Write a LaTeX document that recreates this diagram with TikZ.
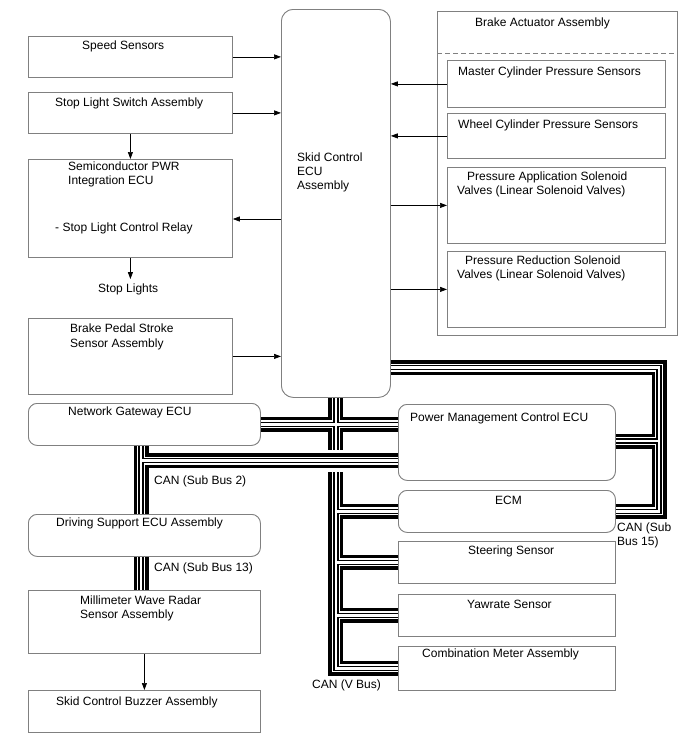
\documentclass[tikz,border=0pt]{standalone}
\usepackage{fontspec}
\setmainfont{Liberation Sans}
\usetikzlibrary{arrows.meta}
\definecolor{bordergray}{RGB}{128,128,128}
\newcommand\canbus[1]{%
  \draw[line width=15pt, black, line join=miter] #1;
  \draw[line width=8pt, white, line join=miter] #1;
  \draw[line width=5.4pt, black, line join=miter] #1;
  \draw[line width=2.8pt, white, line join=miter] #1;
}
\begin{document}
\begin{tikzpicture}[x=1pt,y=-1pt,
  box/.style={draw=bordergray, fill=white, line width=0.8pt, inner sep=0pt, anchor=north west},
  rbox/.style={box, rounded corners=9pt},
  txt/.style={anchor=base west, inner sep=0pt, font=\fontsize{12}{14}\selectfont},
  arr/.style={-{Triangle[length=7pt,width=5pt]}, line width=0.7pt, black}]
\useasboundingbox (0,0) rectangle (688,755);

% ---------- coordinates for buses ----------
\coordinate (s15a) at (659,367.5);
\coordinate (s15b) at (659,441);
\coordinate (s2) at (141,460.5);

% ---------- boxes (positions only used for anchors first) ----------
\path
 (28,36)  node[box, minimum width=204pt, minimum height=41pt] (speed) {}
 (28,92)  node[box, minimum width=204pt, minimum height=41pt] (stopsw) {}
 (28,159) node[box, minimum width=204pt, minimum height=98pt] (semi) {}
 (28,318) node[box, minimum width=204pt, minimum height=76pt] (pedal) {}
 (28,403) node[rbox, minimum width=232pt, minimum height=42pt] (gateway) {}
 (28,514) node[rbox, minimum width=232pt, minimum height=42pt] (drive) {}
 (28,590) node[box, minimum width=232pt, minimum height=63pt] (radar) {}
 (28,690) node[box, minimum width=232pt, minimum height=42pt] (buzzer) {}
 (281,9)  node[box, rounded corners=12pt, minimum width=109pt, minimum height=388pt] (skid) {}
 (437,11) node[box, minimum width=240pt, minimum height=324pt] (actuator) {}
 (447,60) node[box, minimum width=218pt, minimum height=47pt] (master) {}
 (447,113) node[box, minimum width=218pt, minimum height=45pt] (wheel) {}
 (447,167) node[box, minimum width=218pt, minimum height=76pt] (papply) {}
 (447,251) node[box, minimum width=218pt, minimum height=76pt] (preduce) {}
 (398,404) node[rbox, minimum width=217pt, minimum height=76pt] (power) {}
 (398,490) node[rbox, minimum width=217pt, minimum height=42pt] (ecm) {}
 (398,541) node[box, minimum width=217pt, minimum height=42pt] (steer) {}
 (398,594) node[box, minimum width=217pt, minimum height=42pt] (yaw) {}
 (398,646) node[box, minimum width=217pt, minimum height=44pt] (meter) {};

% ---------- CAN (Sub Bus 15) ----------
\canbus{([xshift=-3pt]skid.east |- s15a) -- (s15a) -- (s15a |- ecm.east) -- ([xshift=-3pt]ecm.east)
        (s15b) -- ([xshift=-3pt]power.east |- s15b)}

% ---------- CAN (V Bus) ----------
\canbus{([yshift=3pt]skid.south) -- (skid.south |- meter.west) -- ([xshift=3pt]meter.west)
        ([xshift=-3pt]gateway.east) -- ([xshift=3pt]power.west |- gateway.east)
        (skid.south |- ecm.west) -- ([xshift=3pt]ecm.west)
        (skid.south |- steer.west) -- ([xshift=3pt]steer.west)
        (skid.south |- yaw.west) -- ([xshift=3pt]yaw.west)}

% bridge gap where Sub Bus 2 passes over the V Bus
\draw[white, line width=22pt] (320,460.5) -- (351,460.5);

% ---------- CAN (Sub Bus 2) / (Sub Bus 13) ----------
\canbus{([yshift=3pt]gateway.south -| s2) -- ([yshift=-3pt]drive.north -| s2)
        (s2) -- ([xshift=3pt]power.west |- s2)
        ([yshift=3pt]drive.south -| s2) -- ([yshift=-3pt]radar.north -| s2)}

% ---------- boxes drawn on top ----------
\path
 (28,36)  node[box, minimum width=204pt, minimum height=41pt] {}
 (28,92)  node[box, minimum width=204pt, minimum height=41pt] {}
 (28,159) node[box, minimum width=204pt, minimum height=98pt] {}
 (28,318) node[box, minimum width=204pt, minimum height=76pt] {}
 (28,403) node[rbox, minimum width=232pt, minimum height=42pt] {}
 (28,514) node[rbox, minimum width=232pt, minimum height=42pt] {}
 (28,590) node[box, minimum width=232pt, minimum height=63pt] {}
 (28,690) node[box, minimum width=232pt, minimum height=42pt] {}
 (281,9)  node[box, rounded corners=12pt, minimum width=109pt, minimum height=388pt] {}
 (398,404) node[rbox, minimum width=217pt, minimum height=76pt] {}
 (398,490) node[rbox, minimum width=217pt, minimum height=42pt] {}
 (398,541) node[box, minimum width=217pt, minimum height=42pt] {}
 (398,594) node[box, minimum width=217pt, minimum height=42pt] {}
 (398,646) node[box, minimum width=217pt, minimum height=44pt] {};

% dashed separator in the Brake Actuator Assembly
\draw[bordergray, line width=0.8pt, dash pattern=on 5pt off 3pt]
  ([yshift=-42pt]actuator.north west) -- ([yshift=-42pt]actuator.north east);

% ---------- texts ----------
\node[txt] (tspeed) at (82,49) {Speed Sensors};
\node[txt] (tstopsw) at (55,106) {Stop Light Switch Assembly};
\node[txt] (tsemi1) at (68,170) {Semiconductor PWR};
\node[txt] (tsemi2) at (68,184) {Integration ECU};
\node[txt] (tsemi3) at (55,231) {- Stop Light Control Relay};
\node[txt] (lights) at (98,292) {Stop Lights};
\node[txt] (tskid1) at (297,161) {Skid Control};
\node[txt] (tskid2) at (297,175) {ECU};
\node[txt] (tskid3) at (297,189) {Assembly};
\node[txt] (tpedal1) at (70,332) {Brake Pedal Stroke};
\node[txt] (tpedal2) at (70,347) {Sensor Assembly};
\node[txt] (tgate) at (68,415) {Network Gateway ECU};
\node[txt] (tcan2) at (154,484) {CAN (Sub Bus 2)};
\node[txt] (tdrive) at (56,526) {Driving Support ECU Assembly};
\node[txt] (tcan13) at (154,571) {CAN (Sub Bus 13)};
\node[txt] (tradar1) at (80,604) {Millimeter Wave Radar};
\node[txt] (tradar2) at (80,618) {Sensor Assembly};
\node[txt] (tbuzz) at (56,705) {Skid Control Buzzer Assembly};
\node[txt] (tact) at (475,26) {Brake Actuator Assembly};
\node[txt] (tmaster) at (458,75) {Master Cylinder Pressure Sensors};
\node[txt] (twheel) at (458,128) {Wheel Cylinder Pressure Sensors};
\node[txt] (tpa1) at (467,180) {Pressure Application Solenoid};
\node[txt] (tpa2) at (457,194) {Valves (Linear Solenoid Valves)};
\node[txt] (tpr1) at (465,264) {Pressure Reduction Solenoid};
\node[txt] (tpr2) at (457,278) {Valves (Linear Solenoid Valves)};
\node[txt] (tpower) at (410,421) {Power Management Control ECU};
\node[txt] (tecm) at (495,504) {ECM};
\node[txt] (tsteer) at (468,554) {Steering Sensor};
\node[txt] (tyaw) at (467,608) {Yawrate Sensor};
\node[txt] (tmeter) at (422,657) {Combination Meter Assembly};
\node[txt] (tcan15a) at (617,531) {CAN (Sub};
\node[txt] (tcan15b) at (617,545) {Bus 15)};
\node[txt] (tcanv) at (312,688) {CAN (V Bus)};

% ---------- arrows ----------
\draw[arr] (speed.east) -- (skid.west |- speed.east);
\draw[arr] (stopsw.east) -- (skid.west |- stopsw.east);
\draw[arr] (stopsw.south) -- (semi.north);
\coordinate (relayy) at (0,219);
\draw[arr] (skid.west |- relayy) -- (semi.east |- relayy);
\draw[arr] (semi.south) -- ([yshift=4pt]lights.north -| semi.south);
\draw[arr] (pedal.east) -- (skid.west |- pedal.east);
\draw[arr] (master.west) -- (skid.east |- master.west);
\draw[arr] (wheel.west) -- (skid.east |- wheel.west);
\draw[arr] (skid.east |- papply.west) -- (papply.west);
\draw[arr] (skid.east |- preduce.west) -- (preduce.west);
\draw[arr] (radar.south) -- (buzzer.north);
\end{tikzpicture}
\end{document}
